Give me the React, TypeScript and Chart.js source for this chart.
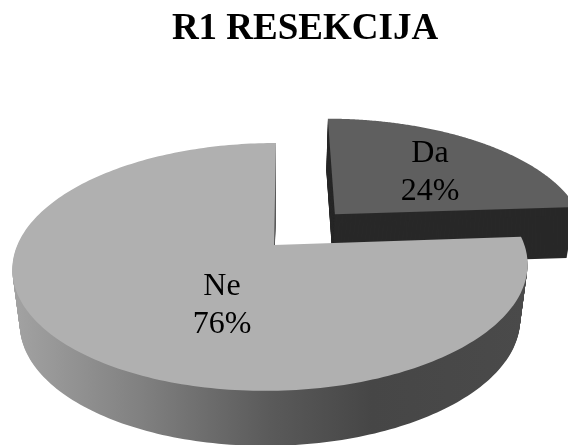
import React, { useEffect, useRef } from "react";
import { Chart, registerables } from "chart.js";

Chart.register(...registerables);

const categories = ["Da", "Ne"];
const shares = [24, 76];
const titleText = "R1 RESEKCIJA";

const topColors = ["#5f5f5f", "#b0b0b0"];
const explodeBySlice = [0.365, 0];
const radiusBySlice = [1.03, 1];
const depthBySlice = [51, 55];
const labelCentres = [
  { x: 430, y: 172.5 },
  { x: 222, y: 306 },
];

// Perspective mapping of the unit pie disc onto the page
function project(u: number, v: number) {
  const w = 1 + 0.0138 * u - 0.177 * v;
  return { x: 274 + (253.5 * u - 2.36 * v) / w, y: 245 + (-1 * u + 120 * v) / w };
}

function traceSlice(
  ctx: CanvasRenderingContext2D,
  start: number,
  end: number,
  explode: number,
  radius: number,
  drop: number,
  shrink: number
) {
  const mid = (start + end) / 2;
  const ox = Math.cos(mid) * explode;
  const oy = Math.sin(mid) * explode;
  const place = (u: number, v: number) => {
    const p = project(u + ox, v + oy);
    return { x: 271 + (p.x - 271) * shrink, y: p.y + drop };
  };
  ctx.beginPath();
  const c = place(0, 0);
  ctx.moveTo(c.x, c.y);
  const steps = 240;
  for (let i = 0; i <= steps; i++) {
    const a = start + ((end - start) * i) / steps;
    const p = place(radius * Math.cos(a), radius * Math.sin(a));
    ctx.lineTo(p.x, p.y);
  }
  ctx.closePath();
}

const pie3d = {
  id: "pie3d",
  beforeDatasetsDraw(chart: any) {
    const ctx: CanvasRenderingContext2D = chart.ctx;
    const arcs = chart.getDatasetMeta(0).data;
    const side = ctx.createLinearGradient(15, 0, 525, 0);
    side.addColorStop(0, "#a2a2a2");
    side.addColorStop(0.25, "#808080");
    side.addColorStop(0.5, "#5a5a5a");
    side.addColorStop(0.7, "#464646");
    side.addColorStop(1, "#4a4a4a");
    const sideFills = ["#282828", side];
    ctx.save();
    arcs.forEach((arc: any, i: number) => {
      const { startAngle, endAngle } = arc.getProps(["startAngle", "endAngle"], true);
      const depth = depthBySlice[i];
      ctx.fillStyle = sideFills[i];
      for (let d = depth; d > 0; d -= 1) {
        traceSlice(ctx, startAngle, endAngle, explodeBySlice[i], radiusBySlice[i], d, 1 - (0.029 * d) / depth);
        ctx.fill();
      }
      ctx.fillStyle = chart.data.datasets[0].backgroundColor[i];
      traceSlice(ctx, startAngle, endAngle, explodeBySlice[i], radiusBySlice[i], 0, 1);
      ctx.fill();
    });
    ctx.fillStyle = "#000000";
    ctx.font = '32px "Liberation Serif"';
    ctx.textAlign = "center";
    ctx.textBaseline = "middle";
    arcs.forEach((_: any, i: number) => {
      const c = labelCentres[i];
      ctx.fillText(String(chart.data.labels[i]), c.x, c.y - 19);
      ctx.fillText(`${chart.data.datasets[0].data[i]}%`, c.x, c.y + 19);
    });
    ctx.restore();
    return false;
  },
};

export default function App() {
  const ref = useRef<HTMLCanvasElement>(null);
  useEffect(() => {
    document.body.style.margin = "0";
    const chart = new Chart(ref.current as HTMLCanvasElement, {
      type: "pie",
      data: {
        labels: categories,
        datasets: [{ data: shares, backgroundColor: topColors, borderWidth: 0 }],
      },
      options: {
        responsive: false,
        animation: false,
        layout: { padding: { left: 42 } },
        plugins: {
          legend: { display: false },
          tooltip: { enabled: false },
          title: {
            display: true,
            text: titleText,
            color: "#000000",
            font: { family: '"Liberation Serif"', size: 37, weight: "bold" },
            padding: { top: 7, bottom: 10 },
          },
        },
      },
      plugins: [pie3d],
    } as any);
    return () => chart.destroy();
  }, []);
  return <canvas ref={ref} width={568} height={445} style={{ display: "block" }} />;
}
